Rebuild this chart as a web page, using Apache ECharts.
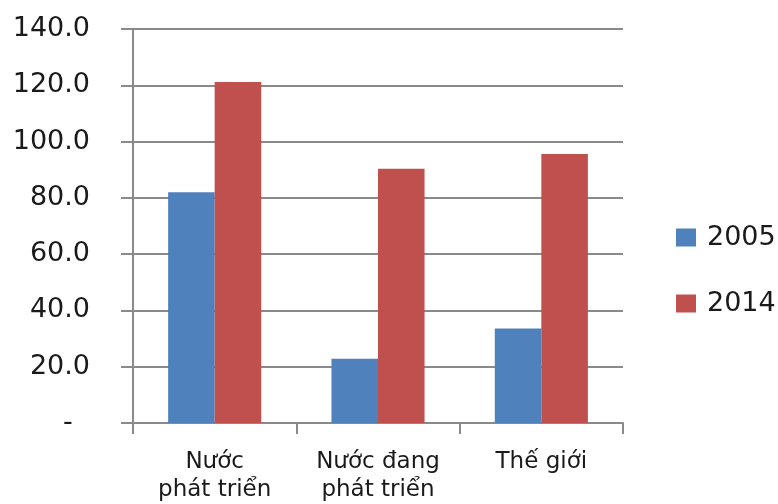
<!DOCTYPE html>
<html>
<head>
<meta charset="utf-8">
<script src="https://cdn.jsdelivr.net/npm/echarts@6/dist/echarts.min.js"></script>
<style>
  html, body { margin: 0; padding: 0; background: #fff; }
  #chart { width: 778px; height: 504px; }
</style>
</head>
<body>
<div id="chart"></div>
<script>
const categories = ['Nước\nphát triển', 'Nước đang\nphát triển', 'Thế giới'];
const seriesNames = ['2005', '2014'];
const values2005 = [82.0, 22.8, 33.6];
const values2014 = [121.2, 90.3, 95.6];
const yTicks = { min: 0, max: 140, interval: 20 };

const FONT = 'DejaVu Sans';
const GRAY = '#8a8a8a';
const INK = '#1a1a1a';

const chart = echarts.init(document.getElementById('chart'));
chart.setOption({
  animation: false,
  textStyle: { fontFamily: FONT, color: INK },
  grid: { left: 133, right: 155, top: 29, bottom: 79 },
  legend: {
    orient: 'vertical',
    left: 676,
    top: 224,
    padding: 0,
    itemWidth: 20,
    itemHeight: 18,
    itemGap: 39,
    icon: 'rect',
    textStyle: { fontFamily: FONT, fontSize: 27, color: INK, lineHeight: 20, padding: [0, 0, 0, 6] },
    data: seriesNames
  },
  xAxis: {
    type: 'category',
    data: categories,
    axisLine: { lineStyle: { color: GRAY, width: 2 } },
    axisTick: { show: true, alignWithLabel: false, length: 11, lineStyle: { color: GRAY, width: 2 } },
    axisLabel: { fontFamily: FONT, fontSize: 23, color: INK, margin: 25, lineHeight: 28 }
  },
  yAxis: {
    type: 'value',
    min: yTicks.min,
    max: yTicks.max,
    interval: yTicks.interval,
    axisLine: { show: true, lineStyle: { color: GRAY, width: 2 } },
    axisTick: { show: true, length: 12, lineStyle: { color: GRAY, width: 2 } },
    splitLine: { show: true, lineStyle: { color: GRAY, width: 2 } },
    axisLabel: {
      fontFamily: FONT, fontSize: 27, color: INK, margin: 43,
      formatter: v => v === 0 ? '-  ' : v.toFixed(1)
    }
  },
  series: [
    {
      name: seriesNames[0], type: 'bar', data: values2005,
      barGap: '0%', barCategoryGap: '43%',
      itemStyle: { color: '#4F81BD' }
    },
    {
      name: seriesNames[1], type: 'bar', data: values2014,
      barGap: '0%', barCategoryGap: '43%',
      itemStyle: { color: '#C0504D' }
    }
  ]
});
</script>
</body>
</html>
